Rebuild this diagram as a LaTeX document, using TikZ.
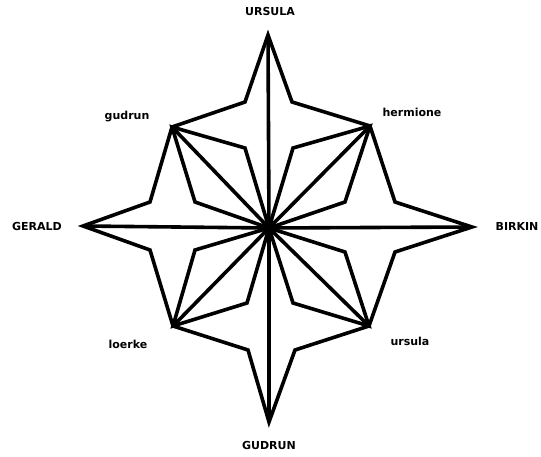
\documentclass[tikz,border=0pt]{standalone}
\usepackage{fontspec}
\setsansfont{DejaVu Sans}
\usetikzlibrary{positioning}
\tikzset{
  edge/.style  = {draw=black, line width=3.6pt, line join=miter},
  cardn/.style = {font=\sffamily\bfseries\fontsize{11}{13}\selectfont,
                  inner sep=0pt},
  diagn/.style = {cardn, anchor=base},
}
\begin{document}
\begin{tikzpicture}[x=1pt, y=-1pt]
  \useasboundingbox (0,0) rectangle (541,457);

  %% ---------------- the eight points ----------------
  \coordinate (mid)  at (269,228);
  \coordinate (tU)   at (268,35);
  \coordinate (tD)   at (269,422);
  \coordinate (tL)   at (83,226);
  \coordinate (tR)   at (472,227);
  \coordinate (dGud) at (172,127);
  \coordinate (dHer) at (370,126);
  \coordinate (dLoe) at (173,326);
  \coordinate (dUrs) at (369,326);

  %% outer notches
  \coordinate (oUL) at (245,102);
  \coordinate (oUR) at (292,102);
  \coordinate (oRU) at (395,202);
  \coordinate (oRD) at (395,252);
  \coordinate (oDR) at (295,350);
  \coordinate (oDL) at (248,350);
  \coordinate (oLD) at (150,250);
  \coordinate (oLU) at (150,202);

  %% inner notches
  \coordinate (iGa) at (245,148);
  \coordinate (iGb) at (195,202);
  \coordinate (iHa) at (293,148);
  \coordinate (iHb) at (345,202);
  \coordinate (iLa) at (195,250);
  \coordinate (iLb) at (247,303);
  \coordinate (iUa) at (345,252);
  \coordinate (iUb) at (293,303);

  %% ---------------- the outline ----------------
  \draw[edge] (tU) -- (oUR) -- (dHer) -- (oRU) -- (tR) -- (oRD) -- (dUrs)
              -- (oDR) -- (tD) -- (oDL) -- (dLoe) -- (oLD) -- (tL) -- (oLU)
              -- (dGud) -- (oUL) -- cycle;

  %% ---------------- spokes and kites ----------------
  \foreach \p in {tU, tD, tL, tR, dGud, dHer, dLoe, dUrs}
    \draw[edge] (mid) -- (\p);

  \foreach \d/\a/\b in {dGud/iGa/iGb, dHer/iHa/iHb,
                        dLoe/iLa/iLb, dUrs/iUa/iUb}
    \draw[edge] (mid) -- (\a) -- (\d) -- (\b) -- cycle;

  %% ---------------- the names ----------------
  \node[cardn] (nU) at (270,11)  {URSULA};
  \node[cardn] (nD) at (269,445) {GUDRUN};
  \node[cardn] (nL) at (37,226)  {GERALD};
  \node[cardn] (nR) at (517,226) {BIRKIN};

  \node[diagn] (nGud) at (127,120) {gudrun};
  \node[diagn] (nHer) at (412,117) {hermione};
  \node[diagn] (nLoe) at (128,348) {loerke};
  \node[diagn] (nUrs) at (410,345) {ursula};

\end{tikzpicture}
\end{document}
